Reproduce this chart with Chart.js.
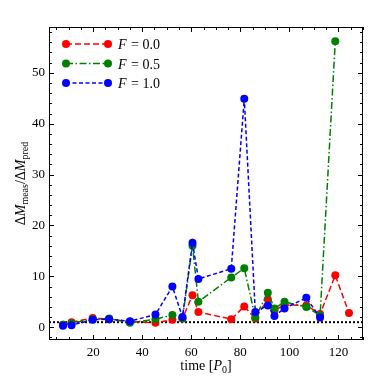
<!DOCTYPE html>
<html><head><meta charset="utf-8">
<script src="https://cdn.jsdelivr.net/npm/chart.js@4/dist/chart.umd.min.js"></script>
<style>html,body{margin:0;padding:0;background:#fff}#wrap{width:382px;height:382px}</style>
</head><body><div id="wrap"><canvas id="c" width="382" height="382"></canvas></div>
<script>
// ---- data ----
const times    = [7.7, 11.2, 19.8, 26.5, 35.0, 45.4, 52.3, 56.4, 60.5, 62.9, 76.3, 81.6, 86.1, 91.2, 93.9, 98.0, 106.9, 112.5, 118.7, 124.3];
const ratioF00 = [0.5, 1.0, 1.8, 1.6, 1.1, 0.9, 1.5, 1.7, 6.3, 3.0, 1.6, 4.1, 1.7, 5.5, 3.3, 4.4, 4.3, 2.6, 10.2, 2.8];
const ratioF05 = [0.5, 0.8, 1.6, 1.7, 0.9, 1.6, 2.4, 1.7, 16.0, 5.0, 9.8, 11.6, 1.9, 6.8, 3.7, 5.0, 4.0, 2.3, 56.2, null];
const ratioF10 = [0.3, 0.4, 1.5, 1.6, 1.2, 2.5, 8.0, 2.0, 16.6, 9.5, 11.5, 44.9, 3.0, 4.3, 2.2, 3.7, 5.8, 1.9, null, null];
const fLabels  = ['0.0', '0.5', '1.0'];
const xTicks   = [20, 40, 60, 80, 100, 120];
const yTicks   = [0, 10, 20, 30, 40, 50];
const refLevel = 1;
const xRange   = [2, 130];
const yRange   = [-2.5, 59];

const colors = ['#ff0000', '#008000', '#0000ff'];
const dashes = [[6, 3], [7, 2.5, 1.5, 2.5], [4, 2.5]];
const series = [ratioF00, ratioF05, ratioF10];

function pts(arr) {
  const out = [];
  arr.forEach((v, i) => { if (v !== null) out.push({x: times[i], y: v}); });
  return out;
}

const datasets = series.map((s, i) => ({
  label: 'F = ' + fLabels[i],
  data: pts(s),
  borderColor: colors[i],
  backgroundColor: colors[i],
  borderWidth: 1.5,
  borderDash: dashes[i],
  pointRadius: 4,
  pointHoverRadius: 4,
  pointBorderWidth: 0,
  tension: 0,
  order: 3 - i
}));
datasets.push({
  label: 'ref',
  data: [{x: xRange[0], y: refLevel}, {x: xRange[1], y: refLevel}],
  borderColor: '#000',
  borderWidth: 2,
  borderDash: [2, 2],
  pointRadius: 0,
  order: 10
});

const SERIF = '"Liberation Serif", "DejaVu Serif", serif';

function drawRich(ctx, parts, x, y) {
  let w = 0;
  parts.forEach(p => { ctx.font = p.f; w += ctx.measureText(p.t).width; });
  let cx = x - w / 2;
  parts.forEach(p => {
    ctx.font = p.f;
    ctx.fillText(p.t, cx, y + (p.dy || 0));
    cx += ctx.measureText(p.t).width;
  });
}

const deco = {
  id: 'deco',
  afterDraw(chart) {
    const ctx = chart.ctx, a = chart.chartArea;
    const xs = chart.scales.x, ys = chart.scales.y;
    ctx.save();
    ctx.strokeStyle = '#000';
    ctx.lineWidth = 1;
    ctx.setLineDash([]);
    // frame
    ctx.strokeRect(a.left + 0.5, a.top + 0.5, a.right - a.left - 1, a.bottom - a.top - 1);
    // ticks inward
    ctx.beginPath();
    for (let v = 5; v <= 130; v += 5) {
      if (v < xRange[0] || v > xRange[1]) continue;
      const px = Math.round(xs.getPixelForValue(v)) + 0.5;
      const L = (v % 20 === 0) ? 5 : 3;
      ctx.moveTo(px, a.bottom); ctx.lineTo(px, a.bottom - L);
      ctx.moveTo(px, a.top); ctx.lineTo(px, a.top + L);
    }
    for (let v = -2; v <= 58; v += 2) {
      const py = Math.round(ys.getPixelForValue(v)) + 0.5;
      const L = (v % 10 === 0) ? 5 : 3;
      ctx.moveTo(a.left, py); ctx.lineTo(a.left + L, py);
      ctx.moveTo(a.right, py); ctx.lineTo(a.right - L, py);
    }
    ctx.stroke();

    ctx.fillStyle = '#000';
    ctx.textBaseline = 'alphabetic';
    // x title
    drawRich(ctx, [
      {t: 'time [', f: '14px ' + SERIF},
      {t: 'P', f: 'italic 14px ' + SERIF},
      {t: '0', f: '10px ' + SERIF, dy: 3},
      {t: ']', f: '14px ' + SERIF}
    ], (a.left + a.right) / 2, 370);
    // y title
    ctx.save();
    ctx.translate(25, (a.top + a.bottom) / 2);
    ctx.rotate(-Math.PI / 2);
    drawRich(ctx, [
      {t: '\u0394', f: '14px ' + SERIF},
      {t: 'M', f: 'italic 14px ' + SERIF},
      {t: 'meas', f: '10px ' + SERIF, dy: 3},
      {t: '/\u0394', f: '14px ' + SERIF},
      {t: 'M', f: 'italic 14px ' + SERIF},
      {t: 'pred', f: '10px ' + SERIF, dy: 3}
    ], 0, 0);
    ctx.restore();

    // legend
    const rows = [44, 63.5, 83];
    fLabels.forEach((lab, i) => {
      const y = rows[i];
      ctx.strokeStyle = colors[i];
      ctx.lineWidth = 1.5;
      ctx.setLineDash(dashes[i]);
      ctx.beginPath(); ctx.moveTo(66, y); ctx.lineTo(108, y); ctx.stroke();
      ctx.setLineDash([]);
      ctx.fillStyle = colors[i];
      [66, 108].forEach(px => { ctx.beginPath(); ctx.arc(px, y, 4, 0, Math.PI * 2); ctx.fill(); });
      ctx.fillStyle = '#000';
      ctx.textAlign = 'left';
      ctx.font = 'italic 14px ' + SERIF;
      ctx.fillText('F', 118, y + 5);
      const wF = ctx.measureText('F').width;
      ctx.font = '14px ' + SERIF;
      ctx.fillText(' = ' + lab, 118 + wF + 1, y + 5);
    });
    ctx.restore();
  }
};

new Chart(document.getElementById('c'), {
  type: 'line',
  data: {datasets},
  options: {
    responsive: false,
    animation: false,
    devicePixelRatio: 1,
    layout: {padding: {top: 27, right: 19, left: 0, bottom: 0}},
    plugins: {legend: {display: false}, tooltip: {enabled: false}},
    scales: {
      x: {
        type: 'linear', min: xRange[0], max: xRange[1],
        grid: {display: false, drawTicks: false}, border: {display: false},
        afterBuildTicks: s => { s.ticks = xTicks.map(v => ({value: v})); },
        afterFit: s => { s.height = 42; },
        ticks: {color: '#000', font: {family: SERIF, size: 13}, padding: 5, maxRotation: 0, autoSkip: false}
      },
      y: {
        type: 'linear', min: yRange[0], max: yRange[1],
        grid: {display: false, drawTicks: false}, border: {display: false},
        afterBuildTicks: s => { s.ticks = yTicks.map(v => ({value: v})); },
        afterFit: s => { s.width = 49; },
        ticks: {color: '#000', font: {family: SERIF, size: 13}, padding: 4, autoSkip: false}
      }
    }
  },
  plugins: [deco]
});
</script>
</body></html>
